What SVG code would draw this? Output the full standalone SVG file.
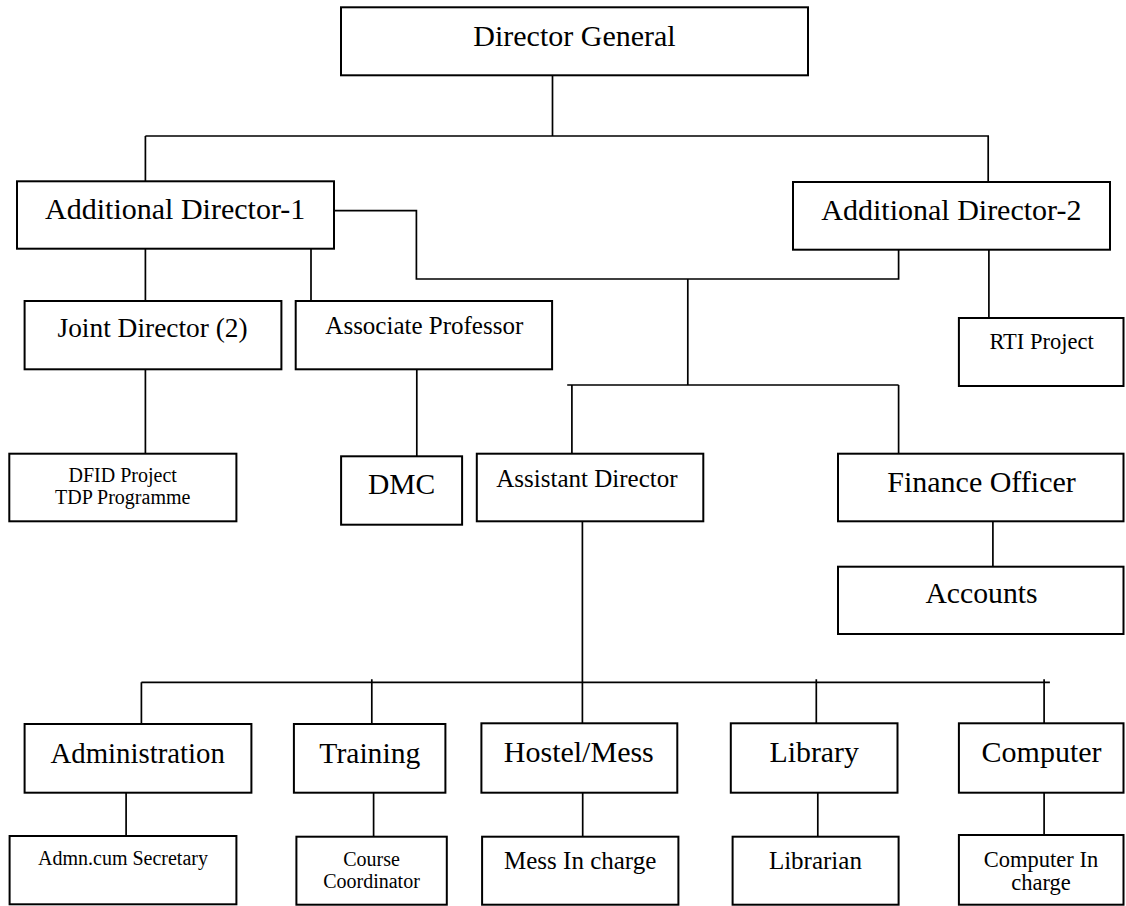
<svg xmlns="http://www.w3.org/2000/svg" width="1126" height="906" viewBox="0 0 1126 906">
<style>
rect{fill:#fff;stroke:#000;stroke-width:2}
text{font-family:"Liberation Serif","Times New Roman",serif;fill:#000;text-anchor:middle}
#connectors path{fill:none;stroke:#000;stroke-width:1.7}
</style>
<rect x="0" y="0" width="1126" height="906" style="stroke:none"/>
<g id="connectors">
<path d="M552.5 75V136M145.4 136H989M145.4 136V181M988.2 136V182"/>
<path d="M334 210.7H416.4V279H898.6V249.7"/>
<path d="M687.8 279V385M567.2 385H898.6M571.9 385V453.5M898.6 385V453.5"/>
<path d="M988.9 249.7V318"/>
<path d="M145.4 249V301M311 249V301"/>
<path d="M145.4 369V453.5M416.8 369V456.3"/>
<path d="M992.9 521V566.7"/>
<path d="M582.4 521V724"/>
<path d="M141.4 682.3H1049.9M141.4 682.3V724M371.8 679.3V724M816.3 679.3V723.3M1044.1 679.3V723.3"/>
<path d="M126.1 792.7V836M373.6 792.7V836.7M582.7 792.7V836.7M817.8 792.7V836.7M1044.1 790V835"/>
</g>
<g id="director-general"><rect x="341" y="7.3" width="467" height="68"/><text x="574.5" y="45.7" font-size="30">Director General</text></g>
<g id="additional-director-1"><rect x="17" y="181.3" width="317" height="67.4"/><text x="175.2" y="219" font-size="30">Additional Director-1</text></g>
<g id="additional-director-2"><rect x="793" y="182" width="317" height="67.7"/><text x="951.4" y="219.5" font-size="30">Additional Director-2</text></g>
<g id="joint-director"><rect x="24.6" y="301" width="256.8" height="68.3"/><text x="152.6" y="336.7" font-size="27.4">Joint Director (2)</text></g>
<g id="associate-professor"><rect x="295.7" y="301" width="256.4" height="68.3"/><text x="424.3" y="334.3" font-size="25">Associate Professor</text></g>
<g id="rti-project"><rect x="958.9" y="318" width="164.6" height="68"/><text x="1041.6" y="349" font-size="22.5">RTI Project</text></g>
<g id="dfid-project"><rect x="9.3" y="453.7" width="227.1" height="67.6"/><text x="122.7" y="481.7" font-size="20">DFID Project</text><text x="122.7" y="504.3" font-size="20">TDP Programme</text></g>
<g id="dmc"><rect x="341.1" y="456.3" width="121" height="68.4"/><text x="401.5" y="494" font-size="29.5">DMC</text></g>
<g id="assistant-director"><rect x="476.8" y="453.7" width="226.5" height="67.6"/><text x="586.9" y="486.7" font-size="25">Assistant Director</text></g>
<g id="finance-officer"><rect x="838" y="453.7" width="285.5" height="67.6"/><text x="981.5" y="491.7" font-size="30">Finance Officer</text></g>
<g id="accounts"><rect x="838" y="566.7" width="285.5" height="67.3"/><text x="981.5" y="603.3" font-size="29.7">Accounts</text></g>
<g id="administration"><rect x="24.6" y="724" width="226.8" height="68.7"/><text x="137.7" y="763" font-size="28.8">Administration</text></g>
<g id="training"><rect x="293.9" y="724" width="151.5" height="68.7"/><text x="369.8" y="763" font-size="29.6">Training</text></g>
<g id="hostel-mess"><rect x="481.4" y="723.3" width="195.9" height="69.4"/><text x="578.8" y="762" font-size="30">Hostel/Mess</text></g>
<g id="library"><rect x="730.8" y="723.3" width="166.7" height="69.4"/><text x="814.2" y="762" font-size="29.8">Library</text></g>
<g id="computer"><rect x="958.9" y="723.3" width="164.6" height="69.4"/><text x="1041.6" y="762" font-size="30">Computer</text></g>
<g id="admn-cum-secretary"><rect x="9.6" y="836" width="226.8" height="68.3"/><text x="123" y="865" font-size="20">Admn.cum Secretary</text></g>
<g id="course-coordinator"><rect x="296.4" y="836.7" width="150.4" height="68"/><text x="371.5" y="865.7" font-size="20">Course</text><text x="371.5" y="888.3" font-size="20">Coordinator</text></g>
<g id="mess-in-charge"><rect x="482.1" y="836.7" width="196.3" height="68"/><text x="580.2" y="869" font-size="25">Mess In charge</text></g>
<g id="librarian"><rect x="732.6" y="836.7" width="166" height="68"/><text x="815.4" y="869" font-size="25">Librarian</text></g>
<g id="computer-in-charge"><rect x="958.9" y="835" width="164.6" height="69.7"/><text x="1041" y="866.7" font-size="22.5">Computer In</text><text x="1041" y="890" font-size="22.5">charge</text></g>
</svg>
